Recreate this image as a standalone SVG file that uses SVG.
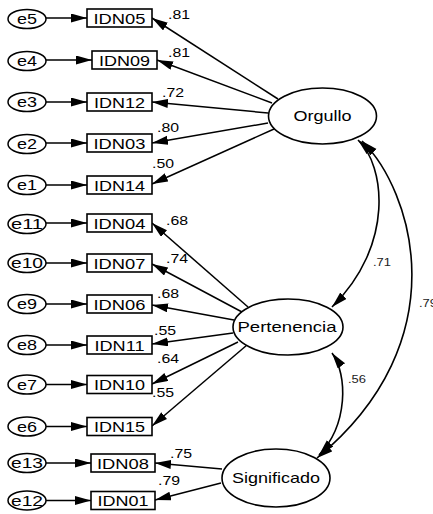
<svg xmlns="http://www.w3.org/2000/svg" width="433" height="514" viewBox="0 0 433 514">
  <defs>
    <marker id="arr" markerUnits="userSpaceOnUse" markerWidth="17" markerHeight="10" refX="16" refY="4.5" orient="auto-start-reverse">
      <path d="M0,0 L16,4.5 L0,9 z" fill="#000"/>
    </marker>
    <style>
      text { font-family: "Liberation Sans", Arial, sans-serif; fill: #000; }
      .obs rect { fill: #fff; stroke: #000; stroke-width: 1.6; }
      .obs text { font-size: 15px; text-anchor: middle; }
      .err ellipse { fill: #fff; stroke: #000; stroke-width: 1.5; }
      .err text { font-size: 14px; text-anchor: middle; }
      .lat ellipse { fill: #fff; stroke: #000; stroke-width: 1.6; }
      .lat text { font-size: 15px; text-anchor: middle; }
      .conn line, .conn path { stroke: #000; stroke-width: 1.5; fill: none; marker-end: url(#arr); }
      .conn path.cov { marker-start: url(#arr); stroke-width: 1.6; }
      .w { font-size: 13px; }
      .c { font-size: 11px; fill: #222; }
    </style>
  </defs>
  <rect width="433" height="514" fill="#fff"/>

  <!-- connectors: error terms, loadings, covariances -->
  <g id="connectors" class="conn">
    <line x1="46" y1="18" x2="87" y2="18"/>
    <line x1="46" y1="60" x2="92" y2="60"/>
    <line x1="46" y1="102" x2="87" y2="102"/>
    <line x1="46" y1="143" x2="87" y2="143"/>
    <line x1="46" y1="185" x2="87" y2="185"/>
    <line x1="46" y1="223" x2="87" y2="223"/>
    <line x1="46" y1="263" x2="87" y2="263"/>
    <line x1="46" y1="304" x2="87" y2="304"/>
    <line x1="46" y1="345" x2="87" y2="345"/>
    <line x1="46" y1="384.5" x2="87" y2="384.5"/>
    <line x1="46" y1="426.5" x2="87" y2="426.5"/>
    <line x1="46" y1="463" x2="91" y2="463"/>
    <line x1="46" y1="500.5" x2="91" y2="500.5"/>

    <line x1="278" y1="99" x2="152" y2="18"/>
    <line x1="272" y1="103" x2="157" y2="60"/>
    <line x1="268" y1="113" x2="152" y2="102"/>
    <line x1="268" y1="123" x2="152" y2="143"/>
    <line x1="274" y1="129" x2="152" y2="184"/>

    <line x1="248" y1="307" x2="152" y2="223"/>
    <line x1="242" y1="312" x2="152" y2="264"/>
    <line x1="234" y1="320" x2="152" y2="305"/>
    <line x1="233" y1="333" x2="152" y2="344"/>
    <line x1="238" y1="342" x2="152" y2="384"/>
    <line x1="247" y1="345" x2="152" y2="426"/>

    <line x1="222" y1="469" x2="155" y2="463"/>
    <line x1="221" y1="483" x2="155" y2="500"/>

    <path class="cov" d="M358,140 C385,165 395,245 332,307"/>
    <path class="cov" d="M362,141 C412,190 460,340 317,458"/>
    <path class="cov" d="M332,353 C348,375 348,425 319,455"/>
  </g>

  <!-- loading and covariance estimates -->
  <g id="estimates">
    <text class="w" x="168" y="18.5" textLength="22" lengthAdjust="spacingAndGlyphs">.81</text>
    <text class="w" x="168" y="57" textLength="22" lengthAdjust="spacingAndGlyphs">.81</text>
    <text class="w" x="162" y="97" textLength="22" lengthAdjust="spacingAndGlyphs">.72</text>
    <text class="w" x="157" y="132" textLength="22" lengthAdjust="spacingAndGlyphs">.80</text>
    <text class="w" x="152" y="168" textLength="22" lengthAdjust="spacingAndGlyphs">.50</text>
    <text class="w" x="166" y="225" textLength="22" lengthAdjust="spacingAndGlyphs">.68</text>
    <text class="w" x="166" y="263" textLength="22" lengthAdjust="spacingAndGlyphs">.74</text>
    <text class="w" x="157" y="298" textLength="22" lengthAdjust="spacingAndGlyphs">.68</text>
    <text class="w" x="154" y="335" textLength="22" lengthAdjust="spacingAndGlyphs">.55</text>
    <text class="w" x="157" y="363" textLength="22" lengthAdjust="spacingAndGlyphs">.64</text>
    <text class="w" x="152" y="397" textLength="22" lengthAdjust="spacingAndGlyphs">.55</text>
    <text class="w" x="170" y="458" textLength="22" lengthAdjust="spacingAndGlyphs">.75</text>
    <text class="w" x="158" y="485" textLength="22" lengthAdjust="spacingAndGlyphs">.79</text>
    <text class="c" x="373" y="266" textLength="18" lengthAdjust="spacingAndGlyphs">.71</text>
    <text class="c" x="419" y="307" textLength="18" lengthAdjust="spacingAndGlyphs">.79</text>
    <text class="c" x="348" y="383" textLength="18" lengthAdjust="spacingAndGlyphs">.56</text>
  </g>

  <!-- error terms -->
  <g id="e5" class="err"><ellipse cx="27" cy="19" rx="19" ry="9.5"/><text x="27" y="24" textLength="20" lengthAdjust="spacingAndGlyphs">e5</text></g>
  <g id="e4" class="err"><ellipse cx="27" cy="61" rx="19" ry="9.5"/><text x="27" y="66" textLength="20" lengthAdjust="spacingAndGlyphs">e4</text></g>
  <g id="e3" class="err"><ellipse cx="27" cy="102" rx="19" ry="9.5"/><text x="27" y="107" textLength="20" lengthAdjust="spacingAndGlyphs">e3</text></g>
  <g id="e2" class="err"><ellipse cx="27" cy="144" rx="19" ry="9.5"/><text x="27" y="149" textLength="20" lengthAdjust="spacingAndGlyphs">e2</text></g>
  <g id="e1" class="err"><ellipse cx="27" cy="185" rx="19" ry="9.5"/><text x="27" y="190" textLength="20" lengthAdjust="spacingAndGlyphs">e1</text></g>
  <g id="e11" class="err"><ellipse cx="27" cy="224" rx="19" ry="9.5"/><text x="27" y="229" textLength="32" lengthAdjust="spacingAndGlyphs">e11</text></g>
  <g id="e10" class="err"><ellipse cx="27" cy="263" rx="19" ry="9.5"/><text x="27" y="268" textLength="32" lengthAdjust="spacingAndGlyphs">e10</text></g>
  <g id="e9" class="err"><ellipse cx="27" cy="304" rx="19" ry="9.5"/><text x="27" y="309" textLength="20" lengthAdjust="spacingAndGlyphs">e9</text></g>
  <g id="e8" class="err"><ellipse cx="27" cy="345" rx="19" ry="9.5"/><text x="27" y="350" textLength="20" lengthAdjust="spacingAndGlyphs">e8</text></g>
  <g id="e7" class="err"><ellipse cx="27" cy="384.5" rx="19" ry="9.5"/><text x="27" y="389.5" textLength="20" lengthAdjust="spacingAndGlyphs">e7</text></g>
  <g id="e6" class="err"><ellipse cx="27" cy="426.5" rx="19" ry="9.5"/><text x="27" y="431.5" textLength="20" lengthAdjust="spacingAndGlyphs">e6</text></g>
  <g id="e13" class="err"><ellipse cx="27" cy="463" rx="19" ry="9.5"/><text x="27" y="468" textLength="32" lengthAdjust="spacingAndGlyphs">e13</text></g>
  <g id="e12" class="err"><ellipse cx="27" cy="500.5" rx="19" ry="9.5"/><text x="27" y="505.5" textLength="32" lengthAdjust="spacingAndGlyphs">e12</text></g>

  <!-- observed indicators -->
  <g id="IDN05" class="obs"><rect x="87" y="9" width="65" height="18"/><text x="119.5" y="23.5" textLength="52" lengthAdjust="spacingAndGlyphs">IDN05</text></g>
  <g id="IDN09" class="obs"><rect x="92" y="51" width="65" height="18"/><text x="124.5" y="65.5" textLength="51" lengthAdjust="spacingAndGlyphs">IDN09</text></g>
  <g id="IDN12" class="obs"><rect x="87" y="93" width="65" height="18"/><text x="119.5" y="107.5" textLength="51" lengthAdjust="spacingAndGlyphs">IDN12</text></g>
  <g id="IDN03" class="obs"><rect x="87" y="134" width="65" height="18"/><text x="119.5" y="148.5" textLength="52" lengthAdjust="spacingAndGlyphs">IDN03</text></g>
  <g id="IDN14" class="obs"><rect x="87" y="176" width="65" height="18"/><text x="119.5" y="190.5" textLength="51" lengthAdjust="spacingAndGlyphs">IDN14</text></g>
  <g id="IDN04" class="obs"><rect x="87" y="214" width="65" height="18"/><text x="119.5" y="228.5" textLength="52" lengthAdjust="spacingAndGlyphs">IDN04</text></g>
  <g id="IDN07" class="obs"><rect x="87" y="254" width="65" height="18"/><text x="119.5" y="268.5" textLength="52" lengthAdjust="spacingAndGlyphs">IDN07</text></g>
  <g id="IDN06" class="obs"><rect x="87" y="295" width="65" height="18"/><text x="119.5" y="309.5" textLength="52" lengthAdjust="spacingAndGlyphs">IDN06</text></g>
  <g id="IDN11" class="obs"><rect x="87" y="336" width="65" height="18"/><text x="119.5" y="350.5" textLength="50" lengthAdjust="spacingAndGlyphs">IDN11</text></g>
  <g id="IDN10" class="obs"><rect x="87" y="375.5" width="65" height="18"/><text x="119.5" y="390" textLength="51" lengthAdjust="spacingAndGlyphs">IDN10</text></g>
  <g id="IDN15" class="obs"><rect x="87" y="417.5" width="65" height="18"/><text x="119.5" y="432" textLength="51" lengthAdjust="spacingAndGlyphs">IDN15</text></g>
  <g id="IDN08" class="obs"><rect x="91" y="454" width="64" height="18"/><text x="123" y="468.5" textLength="52" lengthAdjust="spacingAndGlyphs">IDN08</text></g>
  <g id="IDN01" class="obs"><rect x="91" y="491.5" width="64" height="18"/><text x="123" y="506" textLength="51" lengthAdjust="spacingAndGlyphs">IDN01</text></g>

  <!-- latent factors -->
  <g id="Orgullo" class="lat"><ellipse cx="322.5" cy="116" rx="54" ry="28"/><text x="322.5" y="121" textLength="58" lengthAdjust="spacingAndGlyphs">Orgullo</text></g>
  <g id="Pertenencia" class="lat"><ellipse cx="288" cy="327" rx="55" ry="28"/><text x="287" y="332" textLength="99" lengthAdjust="spacingAndGlyphs">Pertenencia</text></g>
  <g id="Significado" class="lat"><ellipse cx="276" cy="478" rx="54" ry="29"/><text x="276" y="483" textLength="88" lengthAdjust="spacingAndGlyphs">Significado</text></g>
</svg>
